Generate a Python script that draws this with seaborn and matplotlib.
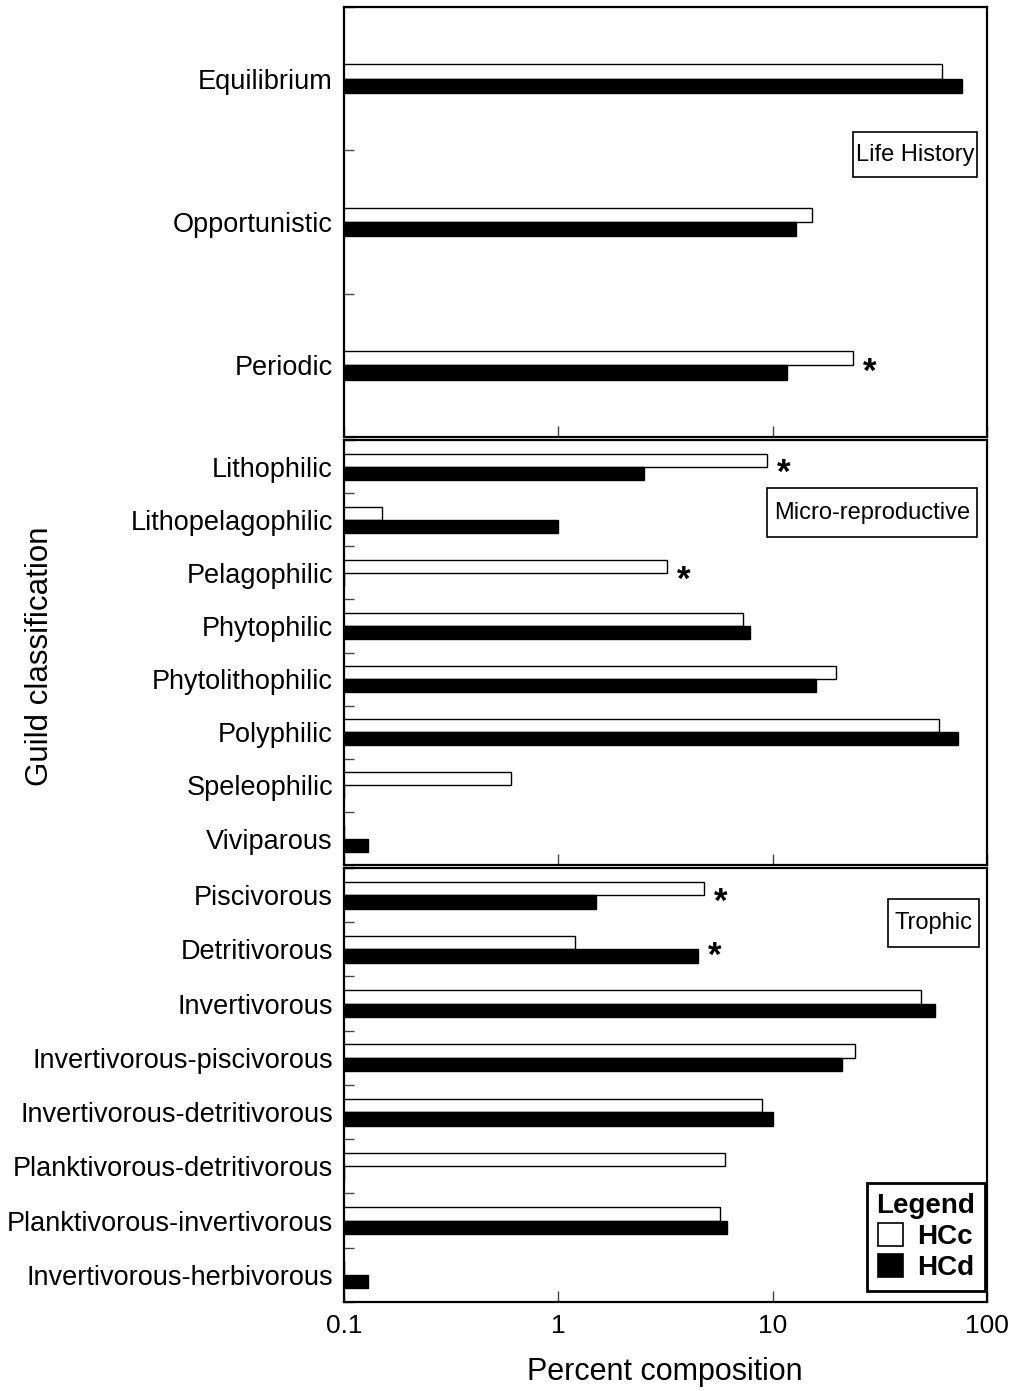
import numpy as np
import pandas as pd
import matplotlib
matplotlib.use("Agg")
import matplotlib.pyplot as plt
from matplotlib.patches import Patch, Rectangle
from matplotlib.ticker import FixedLocator, NullLocator
import seaborn as sns

# ---- data -------------------------------------------------------------
series = ["HCc", "HCd"]
series_colors = {"HCc": "white", "HCd": "black"}

life_history = ["Equilibrium", "Opportunistic", "Periodic"]
life_hcc = [61.5, 15.2, 23.8]
life_hcd = [76.4, 12.9, 11.7]

reproductive = ["Lithophilic", "Lithopelagophilic", "Pelagophilic", "Phytophilic",
                "Phytolithophilic", "Polyphilic", "Speleophilic", "Viviparous"]
repro_hcc = [9.4, 0.15, 3.2, 7.3, 19.8, 59.5, 0.60, 0.1]
repro_hcd = [2.5, 1.0, 0.1, 7.8, 15.9, 72.9, 0.1, 0.13]

trophic = ["Piscivorous", "Detritivorous", "Invertivorous", "Invertivorous-piscivorous",
           "Invertivorous-detritivorous", "Planktivorous-detritivorous",
           "Planktivorous-invertivorous", "Invertivorous-herbivorous"]
trophic_hcc = [4.8, 1.2, 49.2, 24.2, 8.9, 6.0, 5.7, 0.1]
trophic_hcd = [1.5, 4.5, 57.0, 21.1, 10.0, 0.1, 6.1, 0.13]

# guilds with a significant difference between HCc and HCd
life_sig = ["Periodic"]
repro_sig = ["Lithophilic", "Pelagophilic"]
trophic_sig = ["Piscivorous", "Detritivorous"]

x_ticks = [0.1, 1, 10, 100]
x_tick_labels = ["0.1", "1", "10", "100"]

# ---- style ------------------------------------------------------------
sns.set_theme(style="white")
plt.rcParams["font.family"] = ["Liberation Sans", "DejaVu Sans"]
plt.rcParams.update({"text.color": "black", "axes.labelcolor": "black",
                     "xtick.color": "black", "ytick.color": "black"})

fig = plt.figure(figsize=(10.16, 13.91), dpi=100)

panels = [
    dict(title="Life History", cats=life_history, hcc=life_hcc, hcd=life_hcd, sig=life_sig,
         rect=(0.3386, 0.6858, 0.6329, 0.3091), width=0.20,
         box=(0.7916, 0.6047, 0.9844, 0.7093)),
    dict(title="Micro-reproductive", cats=reproductive, hcc=repro_hcc, hcd=repro_hcd, sig=repro_sig,
         rect=(0.3386, 0.3781, 0.6329, 0.3055), width=0.49,
         box=(0.6579, 0.772, 0.9844, 0.887)),
    dict(title="Trophic", cats=trophic, hcc=trophic_hcc, hcd=trophic_hcd, sig=trophic_sig,
         rect=(0.3386, 0.0640, 0.6329, 0.3120), width=0.50,
         box=(0.846, 0.818, 0.9876, 0.928)),
]

axes = []
for i, p in enumerate(panels):
    ax = fig.add_axes(p["rect"])
    n = len(p["cats"])
    df = pd.DataFrame({
        "guild": p["cats"] * 2,
        "group": ["HCc"] * n + ["HCd"] * n,
        "percent": p["hcc"] + p["hcd"],
    })
    sns.barplot(data=df, y="guild", x="percent", hue="group", hue_order=series,
                order=p["cats"], palette=series_colors, orient="h", width=p["width"],
                errorbar=None, edgecolor="black", linewidth=1,
                legend=False, ax=ax)
    # bars start at zero, so switch to the log axis after drawing them
    ax.set_xscale("log")
    ax.set_xlim(0.1, 100)
    ax.set_ylim(n - 0.5, -0.5)
    ax.set_xlabel("")
    ax.set_ylabel("")

    # x ticks
    ax.xaxis.set_major_locator(FixedLocator(x_ticks))
    ax.xaxis.set_minor_locator(NullLocator())
    ax.tick_params(axis="x", which="major", direction="in", length=8, width=1,
                   color="#444444", labelcolor="black", bottom=True, top=False,
                   labelsize=19, pad=9)
    if i < len(panels) - 1:
        ax.tick_params(axis="x", labelbottom=False)
    else:
        ax.set_xticklabels(x_tick_labels)

    # y ticks: labels at categories, short marks between them
    ax.tick_params(axis="y", which="major", length=0, labelsize=19.5, pad=8,
                   left=True, labelcolor="black")
    ax.yaxis.set_minor_locator(FixedLocator(np.arange(-0.5, n, 1.0)))
    ax.tick_params(axis="y", which="minor", direction="in", length=7, width=1,
                   color="#444444", left=True)

    for s in ax.spines.values():
        s.set_visible(True)
        s.set_color("black")
        s.set_linewidth(1.6)

    # panel title box
    x0, y0, x1, y1 = p["box"]
    ax.add_patch(Rectangle((x0, y0), x1 - x0, y1 - y0, transform=ax.transAxes,
                           facecolor="white", edgecolor="black", linewidth=1.2, zorder=5))
    ax.text((x0 + x1) / 2, (y0 + y1) / 2, p["title"], transform=ax.transAxes,
            ha="center", va="center", fontsize=17, color="black", zorder=6)

    # significance markers
    for cat in p["sig"]:
        k = p["cats"].index(cat)
        xend = max(p["hcc"][k], p["hcd"][k])
        ax.annotate("*", xy=(xend, k), xytext=(12, -12), textcoords="offset points",
                    ha="center", va="baseline", fontsize=25, fontweight="bold",
                    color="black")
    axes.append(ax)

# legend in the bottom panel
handles = [Patch(facecolor=series_colors[s], edgecolor="black", linewidth=1.2, label=s)
           for s in series]
leg = axes[-1].legend(handles=handles, title="Legend", loc="lower right",
                      bbox_to_anchor=(0.997, 0.025), borderaxespad=0,
                      prop={"size": 20, "weight": "bold"},
                      title_fontproperties={"size": 20, "weight": "bold"},
                      handlelength=0.9, handleheight=0.9, handletextpad=0.5,
                      labelspacing=0.15, fancybox=False, framealpha=1,
                      edgecolor="black", borderpad=0.35)
leg.get_frame().set_linewidth(2)
for t in leg.get_texts():
    t.set_color("black")
leg.get_title().set_color("black")

fig.text(0.039, 0.528, "Guild classification", rotation=90, ha="center", va="center",
         fontsize=22.5, color="black")
fig.text(0.6545, 0.0137, "Percent composition", ha="center", va="center", fontsize=22,
         color="black")

fig.savefig("out.png", dpi=100)
